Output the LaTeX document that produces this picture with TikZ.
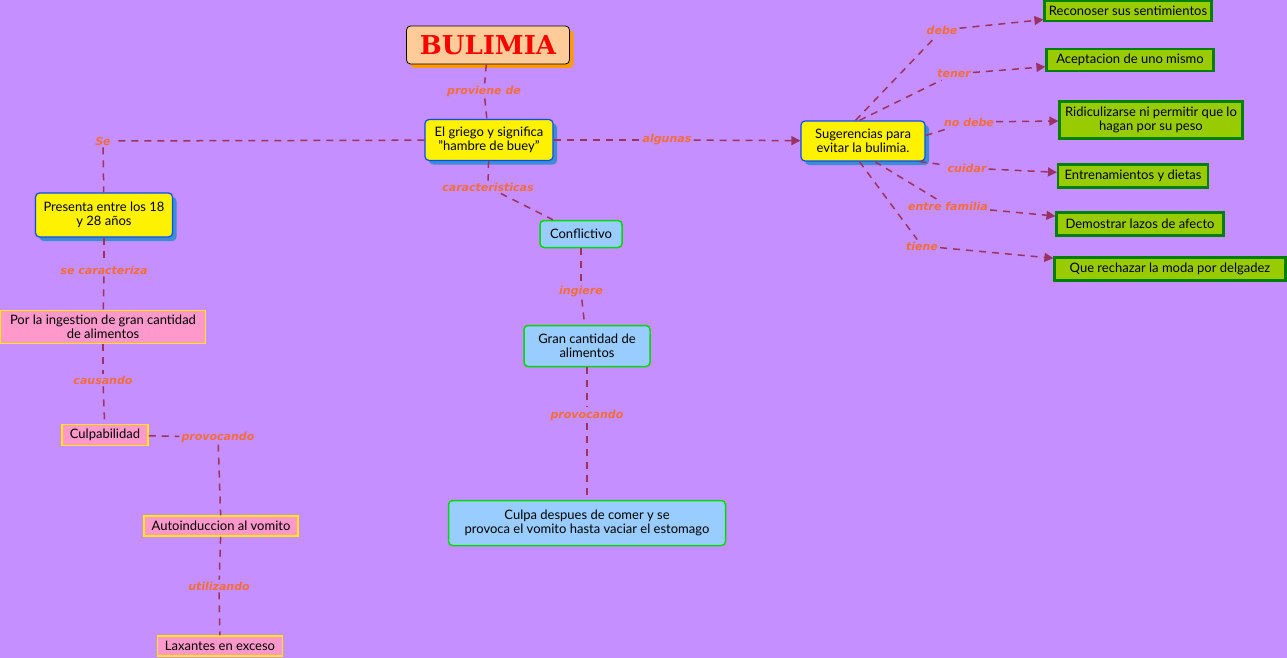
\documentclass[tikz,border=0pt]{standalone}
\usepackage{fontspec}
\setmainfont{Lato}
\newfontfamily\lblf{DejaVu Sans}
\newfontfamily\titf{DejaVu Serif}
\usetikzlibrary{arrows.meta,shadows}
\definecolor{bg}{HTML}{C68FFF}
\definecolor{ln}{HTML}{993366}
\definecolor{lb}{HTML}{F26D3D}
\definecolor{pk}{HTML}{FF99CC}
\definecolor{lbl}{HTML}{99CCFF}
\definecolor{gf}{HTML}{99CC00}
\definecolor{gd}{HTML}{008000}
\begin{document}
\begin{tikzpicture}[x=1pt,y=-1pt,
 lbl/.style={font=\lblf\fontsize{11}{12}\selectfont\bfseries\itshape,text=lb,inner sep=2pt},
 con/.style={draw=ln,line width=1.5pt,dash pattern=on 7pt off 6pt},
 arr/.style={con,-{Triangle[length=9pt,width=9pt]}},
 bx/.style={font=\fontsize{13}{14.5}\selectfont,align=center,inner sep=2pt},
 yel/.style={bx,fill=yellow,draw=blue!70!cyan,line width=1.2pt,rounded corners=4pt,drop shadow={shadow xshift=4pt,shadow yshift=-4pt,fill=cyan!60!blue!80,opacity=1}},
 blu/.style={bx,fill=lbl,draw=green!85!black,line width=1.5pt,rounded corners=4pt},
 pnk/.style={bx,fill=pk,draw=yellow!90!orange,line width=1.5pt},
 grn/.style={bx,fill=gf,draw=gd,line width=2.2pt}]
\fill[bg] (0,0) rectangle (1287,658);
\useasboundingbox (0,0) rectangle (1287,658);
\node[fill=orange!40,draw=black,rounded corners=4pt,minimum width=163pt,minimum height=38pt,line width=0.8pt,
 drop shadow={shadow xshift=4pt,shadow yshift=-4pt,fill=orange!80!yellow,opacity=1},
 font=\titf\fontsize{26}{26}\selectfont\bfseries,text=red] (bul) at (488,45) {BULIMIA};
\node[yel,minimum width=128pt,minimum height=41pt] (gri) at (489,140) {El griego y significa\\"hambre de buey"};
\node[blu,minimum width=82pt,minimum height=27pt] (con) at (581,234) {Conflictivo};
\node[blu,minimum width=126pt,minimum height=41pt] (gran) at (587,346) {Gran cantidad de\\alimentos};
\node[blu,minimum width=277pt,minimum height=45pt] (cul) at (587,523) {Culpa despues de comer y se\\provoca el vomito hasta vaciar el estomago};
\node[yel,minimum width=124pt,minimum height=40pt] (sug) at (863,141) {Sugerencias para\\evitar la bulimia.};
\node[yel,minimum width=137pt,minimum height=44pt] (pre) at (104,215) {Presenta entre los 18\\y 28 años};
\node[pnk,minimum width=205pt,minimum height=33pt] (ing) at (103,327) {Por la ingestion de gran cantidad\\de alimentos};
\node[pnk,minimum width=86pt,minimum height=21pt] (culp) at (105,435) {Culpabilidad};
\node[pnk,minimum width=154pt,minimum height=20pt] (aut) at (221,526) {Autoinduccion al vomito};
\node[pnk,minimum width=125pt,minimum height=20pt] (lax) at (220,646) {Laxantes en exceso};
\node[grn,minimum width=167pt,minimum height=20pt] (g1) at (1128,11) {Reconoser sus sentimientos};
\node[grn,minimum width=167pt,minimum height=22pt] (g2) at (1130,60) {Aceptacion de uno mismo};
\node[grn,minimum width=183pt,minimum height=37pt] (g3) at (1151,120) {Ridiculizarse ni permitir que lo\\hagan por su peso};
\node[grn,minimum width=150pt,minimum height=23pt] (g4) at (1133,176) {Entrenamientos y dietas};
\node[grn,minimum width=167pt,minimum height=23pt] (g5) at (1140,224) {Demostrar lazos de afecto};
\node[grn,minimum width=231pt,minimum height=23pt] (g6) at (1170,269) {Que rechazar la moda por delgadez};
\node[lbl] (l1) at (484,91) {proviene de};
\node[lbl] (l2) at (488,187) {caracteristicas};
\node[lbl] (l3) at (667,140) {algunas};
\node[lbl] (l4) at (103,141) {Se};
\node[lbl] (l5) at (104,270) {se caracteriza};
\node[lbl] (l6) at (103,380) {causando};
\node[lbl] (l7) at (218,437) {provocando};
\node[lbl] (l8) at (219,586) {utilizando};
\node[lbl] (l9) at (581,292) {ingiere};
\node[lbl] (l10) at (587,415) {provocando};
\node[lbl] (d1) at (942,30) {debe};
\node[lbl] (d2) at (954,74) {tener};
\node[lbl] (d3) at (969,122) {no debe};
\node[lbl] (d4) at (967,168) {cuidar};
\node[lbl] (d5) at (948,206) {entre familia};
\node[lbl] (d6) at (922,246) {tiene};
\draw[con] (bul) -- (l1); \draw[con] (l1) -- (gri);
\draw[con] (gri) -- (l2); \draw[con] (l2) -- (con);
\draw[con] (gri) -- (l3); \draw[arr] (l3) -- (sug);
\draw[con] (gri) -- (l4); \draw[con] (l4) -- (pre);
\draw[con] (pre) -- (l5); \draw[con] (l5) -- (ing);
\draw[con] (ing) -- (l6); \draw[con] (l6) -- (culp);
\draw[con] (culp) -- (l7); \draw[con] (l7) -- (aut);
\draw[con] (aut) -- (l8); \draw[con] (l8) -- (lax);
\draw[con] (con) -- (l9); \draw[con] (l9) -- (gran);
\draw[con] (gran) -- (l10); \draw[con] (l10) -- (cul);
\foreach \d/\g/\a in {d1/g1/110,d2/g2/100,d3/g3/5,d4/g4/-20,d5/g5/-60,d6/g6/-100}{
 \draw[con] (sug.\a) -- (\d); \draw[arr] (\d) -- (\g);}
\end{tikzpicture}
\end{document}
